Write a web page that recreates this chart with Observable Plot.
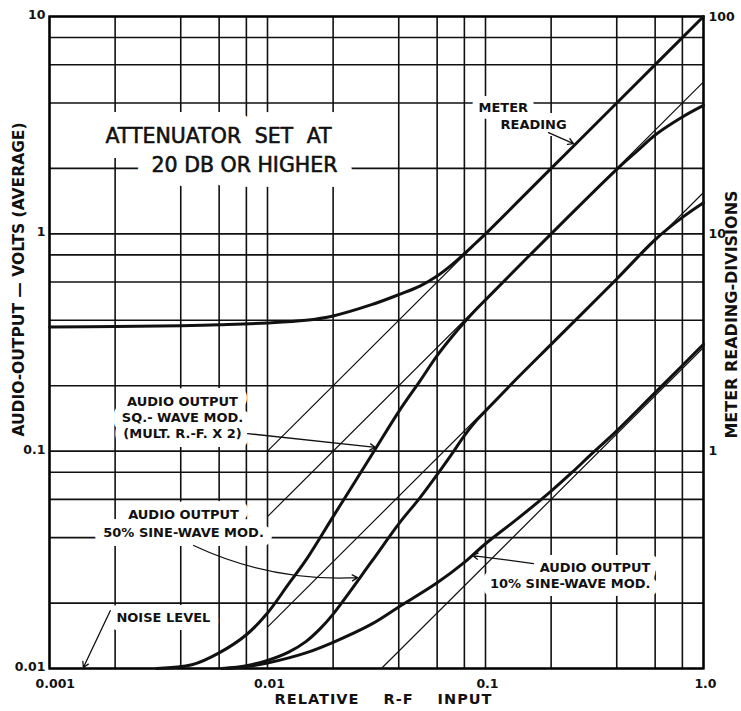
<!DOCTYPE html>
<html><head><meta charset="utf-8">
<script src="https://cdn.jsdelivr.net/npm/d3@7"></script>
<script src="https://cdn.jsdelivr.net/npm/@observablehq/plot@0.6"></script>
<style>
html,body{margin:0;padding:0;background:#fff;}
#chart svg{display:block;}
.ws6 text{word-spacing:7px;}
.wsx text{word-spacing:18px;letter-spacing:1px;}
</style></head><body><div id="chart"></div>
<script>
// ---- grid & ticks ----
const gridX = [0.001,0.002,0.004,0.006,0.008,0.01,0.02,0.04,0.06,0.08,0.1,0.2,0.4,0.6,0.8,1];
const gridY = [0.01,0.02,0.04,0.06,0.08,0.1,0.2,0.4,0.6,0.8,1,2,4,6,8,10];
const xTicks = [0.001,0.01,0.1,1];
const xTickLabels = ["0.001","0.01","0.1","1.0"];
const yTicks = [0.01,0.1,1,10];
const yTickLabels = ["0.01","0.1","1","10"];
const meterTicks = [1,10,100];           // meter divisions (right axis) = 10 x volts
const meterTickLabels = ["1","10","100"];

// ---- curves (relative r-f input -> audio volts) ----
const meterX = [0.001,0.002,0.004,0.006,0.01,0.015,0.02,0.03,0.04,0.05,0.06,0.07,0.08,0.09,0.1,0.2,0.4,1.0];
const meterY = [0.373,0.375,0.378,0.382,0.389,0.40,0.419,0.472,0.525,0.575,0.64,0.72,0.81,0.905,1.0,2.0,4.0,10.0];

const sqX = [0.0031,0.0045,0.006,0.008,0.01,0.0125,0.015,0.02,0.03,0.04,0.05,0.06,0.07,0.08,0.09,0.1,0.2,0.4,0.5,0.6,0.8,1.0];
const sqY = [0.0100,0.0104,0.0118,0.0143,0.018,0.0245,0.0315,0.050,0.0957,0.152,0.21,0.275,0.335,0.392,0.446,0.497,1.0,1.98,2.42,2.85,3.45,3.9];

const s50X = [0.0062,0.008,0.01,0.0125,0.015,0.0175,0.02,0.03,0.04,0.05,0.06,0.07,0.08,0.09,0.1,0.14,0.2,0.4,0.6,0.8,1.0];
const s50Y = [0.0100,0.0103,0.0109,0.0119,0.0133,0.0153,0.0178,0.031,0.0463,0.061,0.078,0.097,0.118,0.137,0.153,0.217,0.31,0.62,0.94,1.19,1.39];

const s10X = [0.0065,0.008,0.01,0.015,0.02,0.03,0.04,0.06,0.08,0.1,0.14,0.2,0.25,0.3,0.4,0.6,0.8,1.0];
const s10Y = [0.0100,0.0102,0.0106,0.0118,0.0132,0.016,0.0192,0.0248,0.0308,0.0375,0.0488,0.0655,0.080,0.0951,0.124,0.186,0.248,0.31];

// ---- straight reference (asymptote) lines ----
const ref10X = [0.01,1],   ref10Y = [0.1,10];
const ref5X  = [0.01,1],   ref5Y  = [0.05,5];
const ref155X= [0.01,1],   ref155Y= [0.0155,1.55];
const ref03X = [0.0333,1], ref03Y = [0.01,0.3];

const pairs = (xs, ys) => xs.map((x, i) => ({x, y: ys[i]}));
const INK = "#111";
const thick = {x: "x", y: "y", stroke: INK, strokeWidth: 3, curve: "catmull-rom", strokeLinecap: "round", strokeLinejoin: "round"};
const thin = {x: "x", y: "y", stroke: INK, strokeWidth: 1.2};
const arrowOpts = {x1: "x1", y1: "y1", x2: "x2", y2: "y2", stroke: INK, strokeWidth: 1.3, headLength: 7};
const lbl = {fontSize: 12.5, fontWeight: "bold", fill: INK, lineAnchor: "middle"};

// annotation notes: [text, options, halo width, extra ink stroke]
const notes = [
  ["ATTENUATOR SET AT", {x: 0.00596, y: 2.80, fontSize: 20.5, fontWeight: "normal", className: "ws6"}, 30, 0.6],
  ["20 DB OR HIGHER", {x: 0.00784, y: 2.06, fontSize: 20.5, fontWeight: "normal"}, 30, 0.6],
  ["METER", {x: 0.0929, y: 3.81, fontSize: 13, fontWeight: "bold", textAnchor: "start"}, 14, 0],
  ["READING", {x: 0.1172, y: 3.18, fontSize: 13, fontWeight: "bold", textAnchor: "start"}, 14, 0],
  ["AUDIO OUTPUT\nSQ.- WAVE MOD.\n(MULT. R.-F. X 2)", {x: 0.004075, y: 0.1443, fontSize: 13, fontWeight: "bold", lineHeight: 1.23}, 18, 0],
  ["AUDIO OUTPUT\n50% SINE-WAVE MOD.", {x: 0.00412, y: 0.0469, fontSize: 13, fontWeight: "bold", lineHeight: 1.38}, 18, 0],
  ["NOISE LEVEL", {x: 0.00333, y: 0.01715, fontSize: 13, fontWeight: "bold"}, 16, 0],
  ["AUDIO OUTPUT\n10% SINE-WAVE MOD.", {x: 0.5713, y: 0.02704, fontSize: 13, fontWeight: "bold", lineHeight: 1.23, textAnchor: "end"}, 16, 0]
];
const haloMarks = notes.map(([t, o, w]) => Plot.text([t], {...o, text: d => d, fill: "white", stroke: "white", strokeWidth: w, strokeLinejoin: "round"}));
const noteMarks = notes.map(([t, o, , s]) => Plot.text([t], {...o, text: d => d, fill: INK, ...(s ? {stroke: INK, strokeWidth: s} : {})}));

const chart = Plot.plot({
  width: 741, height: 711,
  marginLeft: 49, marginRight: 38, marginTop: 16, marginBottom: 43,
  style: {fontFamily: "DejaVu Sans", background: "white", color: INK},
  x: {type: "log", domain: [0.001, 1], axis: null},
  y: {type: "log", domain: [0.01, 10], axis: null},
  marks: [
    Plot.ruleX(gridX, {stroke: INK, strokeWidth: 1.6}),
    Plot.ruleY(gridY, {stroke: INK, strokeWidth: 1.6}),
    Plot.frame({stroke: "#000", strokeWidth: 2.4}),

    // white halos break the grid behind the lettering, as in the original
    ...haloMarks,
    ...noteMarks,

    // straight asymptote lines
    Plot.line(pairs(ref10X, ref10Y), thin),
    Plot.line(pairs(ref5X, ref5Y), thin),
    Plot.line(pairs(ref155X, ref155Y), thin),
    Plot.line(pairs(ref03X, ref03Y), thin),

    // measured curves
    Plot.line(pairs(meterX, meterY), thick),
    Plot.line(pairs(sqX, sqY), thick),
    Plot.line(pairs(s50X, s50Y), thick),
    Plot.line(pairs(s10X, s10Y), thick),

    // leader arrows
    Plot.arrow([{x1: 0.1945, y1: 2.92, x2: 0.2533, y2: 2.60}], arrowOpts),
    Plot.arrow([{x1: 0.0081, y1: 0.1205, x2: 0.0313, y2: 0.104}], arrowOpts),
    Plot.arrow([{x1: 0.00458, y1: 0.0368, x2: 0.0259, y2: 0.0262}], {...arrowOpts, bend: -14}),
    Plot.arrow([{x1: 0.0019, y1: 0.01845, x2: 0.00143, y2: 0.0101}], arrowOpts),
    Plot.arrow([{x1: 0.166, y1: 0.0304, x2: 0.0872, y2: 0.0331}], arrowOpts),

    // left tick labels
    Plot.text(yTicks, {y: d => d, frameAnchor: "left", dx: -4, dy: -1.5, textAnchor: "end", text: (d, i) => yTickLabels[i], ...lbl}),
    // right tick labels (meter divisions)
    Plot.text(meterTicks, {y: d => d / 10, frameAnchor: "right", dx: 5, textAnchor: "start", text: (d, i) => meterTickLabels[i], ...lbl}),
    // bottom tick labels (first one starts just inside the corner, as in the original)
    Plot.text(xTicks.slice(0, 1), {x: d => d, frameAnchor: "bottom", dy: 15, dx: -14, textAnchor: "start", text: (d, i) => xTickLabels[i], ...lbl}),
    Plot.text(xTicks.slice(1), {x: d => d, frameAnchor: "bottom", dy: 15, dx: 2, textAnchor: "middle", text: (d, i) => xTickLabels[i + 1], ...lbl}),

    // axis titles
    Plot.text(["AUDIO-OUTPUT — VOLTS (AVERAGE)"], {frameAnchor: "left", rotate: -90, textAnchor: "middle", lineAnchor: "middle", dx: -30, dy: -63, text: d => d, fontSize: 15.5, fontWeight: "bold", fill: INK}),
    Plot.text(["METER READING-DIVISIONS"], {frameAnchor: "right", rotate: -90, textAnchor: "middle", lineAnchor: "middle", dx: 28, dy: -28, text: d => d, fontSize: 16, fontWeight: "bold", fill: INK}),
    Plot.text(["RELATIVE R-F INPUT"], {frameAnchor: "bottom", textAnchor: "middle", lineAnchor: "middle", dx: 7, dy: 31, text: d => d, fontSize: 14.5, fontWeight: "bold", fill: INK, className: "wsx"})
  ]
});
document.getElementById("chart").append(chart);
</script>
</body></html>
